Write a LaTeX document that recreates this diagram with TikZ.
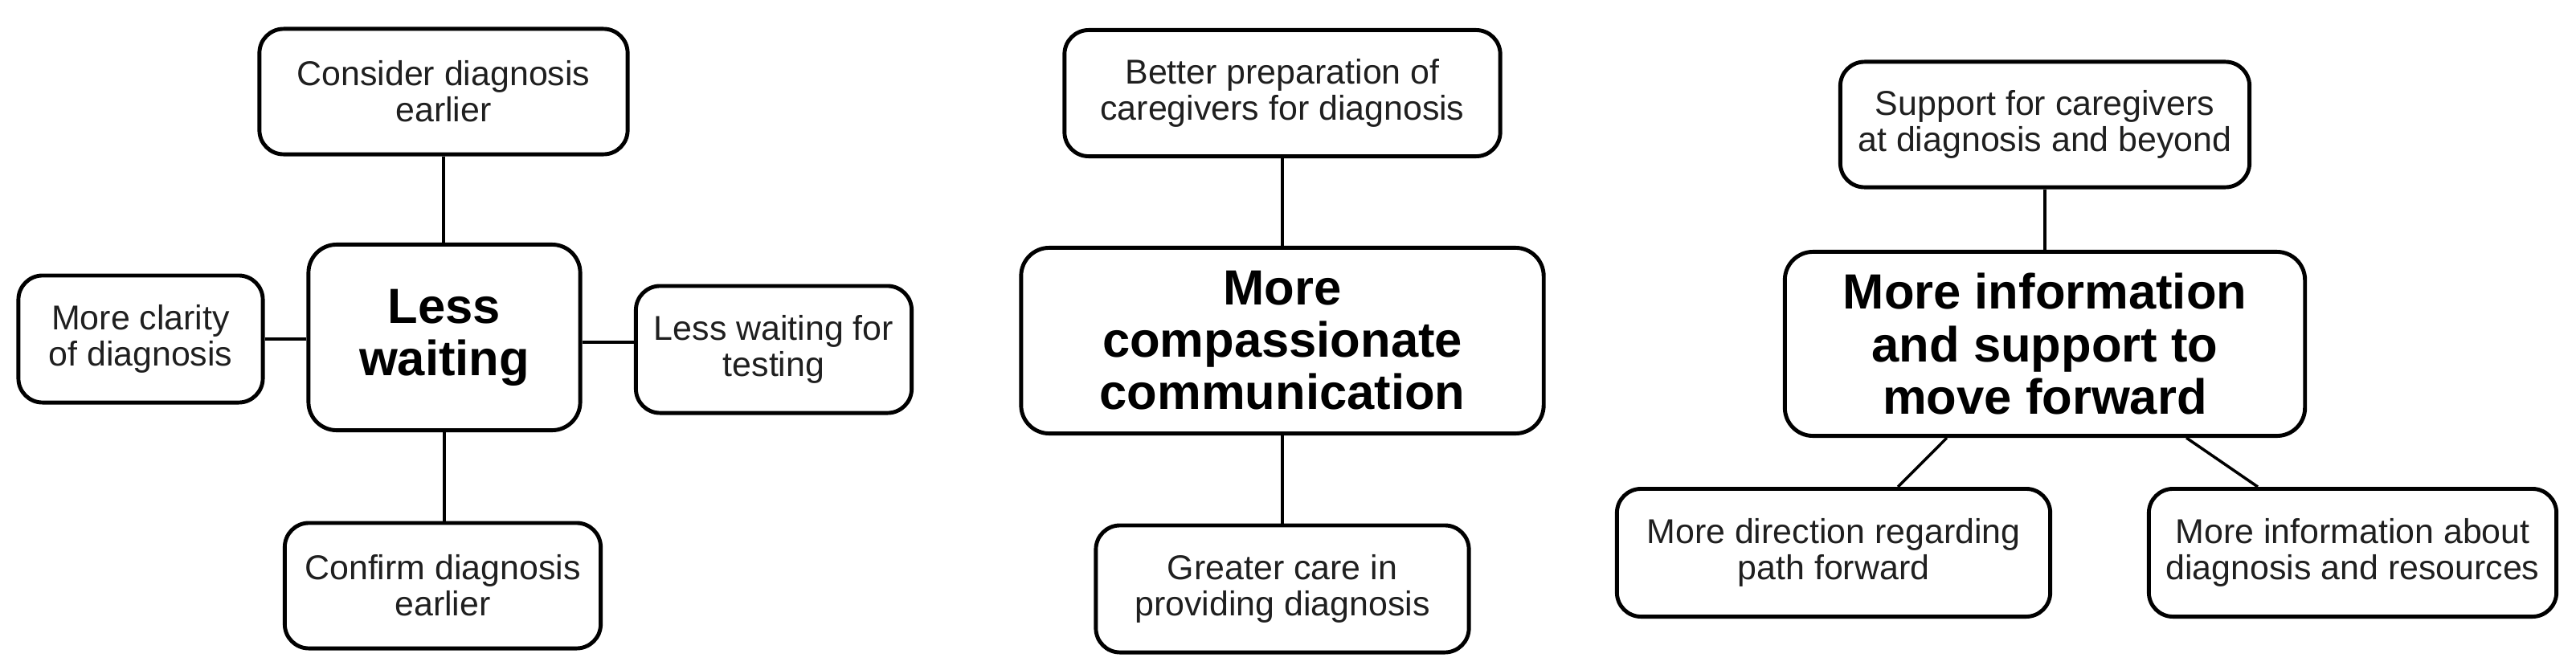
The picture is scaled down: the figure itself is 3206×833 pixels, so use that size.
\documentclass[tikz,border=0pt]{standalone}
\usepackage{fontspec}
\setmainfont{Liberation Sans}
\usetikzlibrary{calc}
\begin{document}
\begin{tikzpicture}[x=0.01cm,y=-0.01cm,
  box/.style={draw=black,line width=1.4pt,rounded corners=0.3cm,align=center,inner sep=0pt,
    font=\fontsize{12.2}{12.8}\selectfont,text=black!88},
  bigbox/.style={box,rounded corners=0.35cm,font=\fontsize{17.5}{18.5}\selectfont\bfseries,text=black},
  link/.style={draw=black,line width=1.0pt}]
\useasboundingbox[fill=white] (0,0) rectangle (3206,833);
% group 1
\node[box,minimum width=4.58cm,minimum height=1.56cm] (consider) at (552,114) {Consider diagnosis\\earlier};
\node[bigbox,minimum width=3.38cm,minimum height=2.31cm] (lesswait) at (553,420) {Less\\waiting};
\node[box,minimum width=3.04cm,minimum height=1.58cm] (clarity) at (175,422) {More clarity\\of diagnosis};
\node[box,minimum width=3.43cm,minimum height=1.58cm] (testing) at (963,435) {Less waiting for\\testing};
\node[box,minimum width=3.93cm,minimum height=1.56cm] (confirm) at (551,729) {Confirm diagnosis\\earlier};
\draw[link] (consider.south) -- (consider.south |- lesswait.north);
\draw[link] (lesswait.south) -- (lesswait.south |- confirm.north);
\draw[link] (clarity.east) -- (clarity.east -| lesswait.west);
\draw[link] ([yshift=-0.06cm]lesswait.east) coordinate (re) -- (re -| testing.west);
% group 2
\node[box,minimum width=5.42cm,minimum height=1.57cm] (better) at (1596,116) {Better preparation of\\caregivers for diagnosis};
\node[bigbox,minimum width=6.50cm,minimum height=2.31cm] (compassion) at (1596,424) {More\\compassionate\\communication};
\node[box,minimum width=4.64cm,minimum height=1.58cm] (greater) at (1596,733) {Greater care in\\providing diagnosis};
\draw[link] (better.south) -- (compassion.north);
\draw[link] (compassion.south) -- (greater.north);
% group 3
\node[box,minimum width=5.09cm,minimum height=1.56cm] (support) at (2545,155) {Support for caregivers\\at diagnosis and beyond};
\node[bigbox,minimum width=6.47cm,minimum height=2.29cm] (moreinfo) at (2545,428) {More information\\and support to\\move forward};
\node[box,minimum width=5.39cm,minimum height=1.59cm] (direction) at (2282,688) {More direction regarding\\path forward};
\node[box,minimum width=5.07cm,minimum height=1.59cm] (about) at (2928,688) {More information about\\diagnosis and resources};
\draw[link] (support.south) -- (moreinfo.north);
\draw[link] ([xshift=-1.22cm]moreinfo.south) -- ([xshift=0.80cm]direction.north);
\draw[link] ([xshift=1.76cm]moreinfo.south) -- ([xshift=-1.18cm]about.north);
\end{tikzpicture}
\end{document}
